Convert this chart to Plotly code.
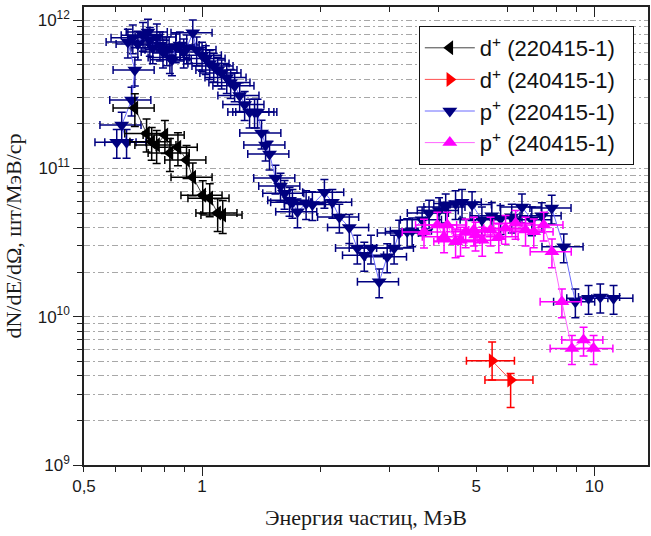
import plotly.graph_objects as go

# ---- data ----
d220_E = [0.674, 0.722, 0.744, 0.766, 0.804, 0.828, 0.868, 0.913, 0.947, 1.004, 1.046, 1.096, 1.129]
d220_Y = [2.55e11, 1.72e11, 1.51e11, 1.44e11, 1.68e11, 1.27e11, 1.39e11, 1.14e11, 8.7e10, 6.6e10,
          6.3e10, 5.0e10, 4.85e10]

d240_E = [5.49, 6.12]
d240_Y = [5.04e9, 3.74e9]
d240_Yplus = [1.7e9, 0.4e9]
d240_Yminus = [1.3e9, 1.3e9]

p220_E = [0.606, 0.642, 0.624, 0.661, 0.674,
          0.647, 0.666, 0.686, 0.707, 0.728, 0.736, 0.749, 0.767, 0.781, 0.795, 0.813, 0.828, 0.838,
          0.857, 0.878, 0.898, 0.914, 0.947, 0.969, 1.0, 1.022,
          1.046, 1.071, 1.096, 1.122, 1.156, 1.183, 1.211, 1.247, 1.284, 1.322, 1.361, 1.385, 1.418,
          1.452, 1.486, 1.539, 1.585, 1.623, 1.671, 1.70, 1.751,
          1.842, 1.911, 2.051, 2.149, 2.239, 2.374, 2.488, 2.592, 2.696, 2.829, 2.965, 3.088, 3.18,
          3.334, 3.433, 3.64, 3.792, 4.02, 4.18, 4.43, 4.60, 4.88, 5.17, 5.48, 5.77, 6.16, 6.54,
          6.93, 7.35, 7.79, 8.36, 8.95, 9.67, 10.36, 11.2]
p220_Y = [1.5e11, 1.5e11, 1.96e11, 2.89e11, 4.6e11,
          7.1e11, 7.6e11, 6.9e11, 7.9e11, 8.3e11, 7.3e11, 6.5e11, 7.7e11, 6.8e11, 6.1e11, 6.3e11,
          5.6e11, 5.4e11, 6.6e11, 6.8e11, 6.1e11, 6.5e11, 8.2e11, 6.3e11, 5.8e11, 5.5e11,
          5.1e11, 4.9e11, 4.6e11, 4.4e11, 4.1e11, 3.8e11, 3.6e11, 3.1e11, 2.7e11, 2.4e11, 2.4e11,
          2.4e11, 1.73e11, 1.44e11, 1.25e11, 8.6e10, 7.6e10, 6.8e10, 6.1e10, 5.9e10, 5.1e10,
          5.8e10, 5.7e10, 6.9e10, 5.9e10, 4.7e10, 4.0e10, 2.9e10, 2.6e10, 2.9e10, 1.72e10, 2.54e10,
          2.9e10, 3.66e10, 3.75e10, 3.8e10, 4.5e10, 5.0e10, 5.2e10, 5.5e10, 5.8e10, 5.9e10, 5.7e10,
          4.5e10, 4.8e10, 4.6e10, 4.7e10, 5.5e10, 4.5e10, 4.8e10, 5.4e10, 2.96e10, 1.26e10, 1.33e10,
          1.36e10, 1.33e10]

p240_E = [3.68, 3.98, 4.14, 4.22, 4.43, 4.56, 4.70, 4.93, 4.98, 5.18, 5.44, 5.71, 5.94, 6.30,
          6.68, 7.01, 7.43, 7.80, 8.27, 8.77, 9.39, 9.96]
p240_Y = [3.72e10, 4.15e10, 3.46e10, 4.15e10, 3.2e10, 3.28e10, 3.74e10, 3.84e10, 3.55e10, 3.28e10,
          3.84e10, 3.46e10, 3.94e10, 4.26e10, 3.84e10, 3.74e10, 4.15e10, 2.74e10, 1.26e10, 6.11e9,
          6.95e9, 6.11e9]

x_tickvals = [0.5, 1, 5, 10]
x_ticktext = ["0,5", "1", "5", "10"]
x_minor = [0.6, 0.7, 0.8, 0.9, 2, 3, 4, 6, 7, 8, 9]
x_major_long = [1, 10]
y_tickvals = [1e9, 1e10, 1e11, 1e12]
y_ticktext = ["10<sup>9</sup>", "10<sup>10</sup>", "10<sup>11</sup>", "10<sup>12</sup>"]
y_minor = [m * 10 ** e for e in (9, 10, 11) for m in range(2, 10)]

x_range = [-0.301, 1.137]
y_range = [9, 12.088]

TICKFONT = dict(family="Liberation Sans, Arial", size=17, color="#1a1a1a")
SERIF = dict(family="Liberation Serif, Times New Roman", size=22, color="#1a1a1a")
PAD = "\u00a0\u00a0"


def series(name, x, y, symbol, mcolor, lcolor, rank, xerr=12, yerr=22, yarr=None):
    ey = dict(type="percent", value=yerr, color=mcolor, thickness=1.5, width=4)
    if yarr is not None:
        ey = dict(type="data", array=yarr[0], arrayminus=yarr[1], symmetric=False,
                  color=mcolor, thickness=1.5, width=4)
    return go.Scatter(
        x=x, y=y, name=name + PAD, mode="lines+markers", legendrank=rank,
        line=dict(color=lcolor, width=1),
        marker=dict(symbol=symbol, size=13, color=mcolor, line=dict(width=0)),
        error_x=dict(type="percent", value=xerr, color=mcolor, thickness=1.5, width=4),
        error_y=ey,
    )


fig = go.Figure()
fig.add_trace(series("p<sup>+</sup> (220415-1)", p220_E, p220_Y, "triangle-down", "#000080", "#6a6aff", 3))
fig.add_trace(series("p<sup>+</sup> (240415-1)", p240_E, p240_Y, "triangle-up", "#ff00ff", "#ff66ff", 4))
fig.add_trace(series("d<sup>+</sup> (220415-1)", d220_E, d220_Y, "triangle-left", "#000000", "#444444", 1, yerr=25))
fig.add_trace(series("d<sup>+</sup> (240415-1)", d240_E, d240_Y, "triangle-right", "#ff0000", "#ff5050", 2,
                     xerr=14, yarr=(d240_Yplus, d240_Yminus)))

# helper traces to register overlay axes (long bottom ticks, top inside ticks)
fig.add_trace(go.Scatter(x=[None], y=[None], xaxis="x2", yaxis="y", showlegend=False, hoverinfo="skip"))
fig.add_trace(go.Scatter(x=[None], y=[None], xaxis="x3", yaxis="y", showlegend=False, hoverinfo="skip"))

fig.update_layout(
    width=651, height=536,
    margin=dict(l=84, r=1, t=7, b=71),
    paper_bgcolor="white", plot_bgcolor="white",
    showlegend=True,
    legend=dict(
        x=(420 - 84) / 566, y=1 - (26 - 7) / 458, xanchor="left", yanchor="top",
        bgcolor="white", bordercolor="#111", borderwidth=1,
        font=dict(family="Liberation Sans, Arial", size=22, color="#111"),
        itemwidth=50, tracegroupgap=0,
    ),
    xaxis=dict(
        type="log", range=x_range, tickmode="array", tickvals=x_tickvals, ticktext=x_ticktext,
        ticks="outside", ticklen=5, tickwidth=1.3, tickcolor="#222",
        minor=dict(tickvals=x_minor, ticks="outside", ticklen=5, tickwidth=1.3, tickcolor="#222", showgrid=False),
        showgrid=False, zeroline=False, showline=True, linecolor="#222", linewidth=1.5, mirror=True,
        tickfont=TICKFONT,
        title=dict(text="Энергия частиц, МэВ", font=SERIF, standoff=14),
    ),
    xaxis2=dict(
        type="log", range=x_range, overlaying="x", anchor="y", side="bottom",
        tickmode="array", tickvals=x_major_long, ticks="outside", ticklen=10, tickwidth=1.3,
        tickcolor="#222", showticklabels=False, showgrid=False, showline=False, zeroline=False,
    ),
    xaxis3=dict(
        type="log", range=x_range, overlaying="x", anchor="y", side="top",
        tickmode="array", tickvals=x_major_long, ticks="inside", ticklen=10, tickwidth=1.3,
        tickcolor="#222", showticklabels=False, showgrid=False, showline=False, zeroline=False,
        minor=dict(tickvals=x_minor, ticks="inside", ticklen=5, tickwidth=1.3, tickcolor="#222", showgrid=False),
    ),
    yaxis=dict(
        type="log", range=y_range, tickmode="array", tickvals=y_tickvals, ticktext=y_ticktext,
        ticks="outside", ticklen=9, tickwidth=1.3, tickcolor="#222",
        showgrid=True, gridcolor="#a8a8a8", gridwidth=1, griddash="6px,3px,2px,3px",
        minor=dict(tickvals=y_minor, ticks="outside", ticklen=5, tickwidth=1.3, tickcolor="#222",
                   showgrid=True, gridcolor="#a8a8a8", gridwidth=1, griddash="6px,3px,2px,3px"),
        zeroline=False, showline=True, linecolor="#222", linewidth=1.5, mirror=True,
        tickfont=TICKFONT,
        title=dict(text="dN/dE/dΩ, шт/МэВ/ср", font=SERIF, standoff=10),
    ),
)

fig.write_html("out.html")
